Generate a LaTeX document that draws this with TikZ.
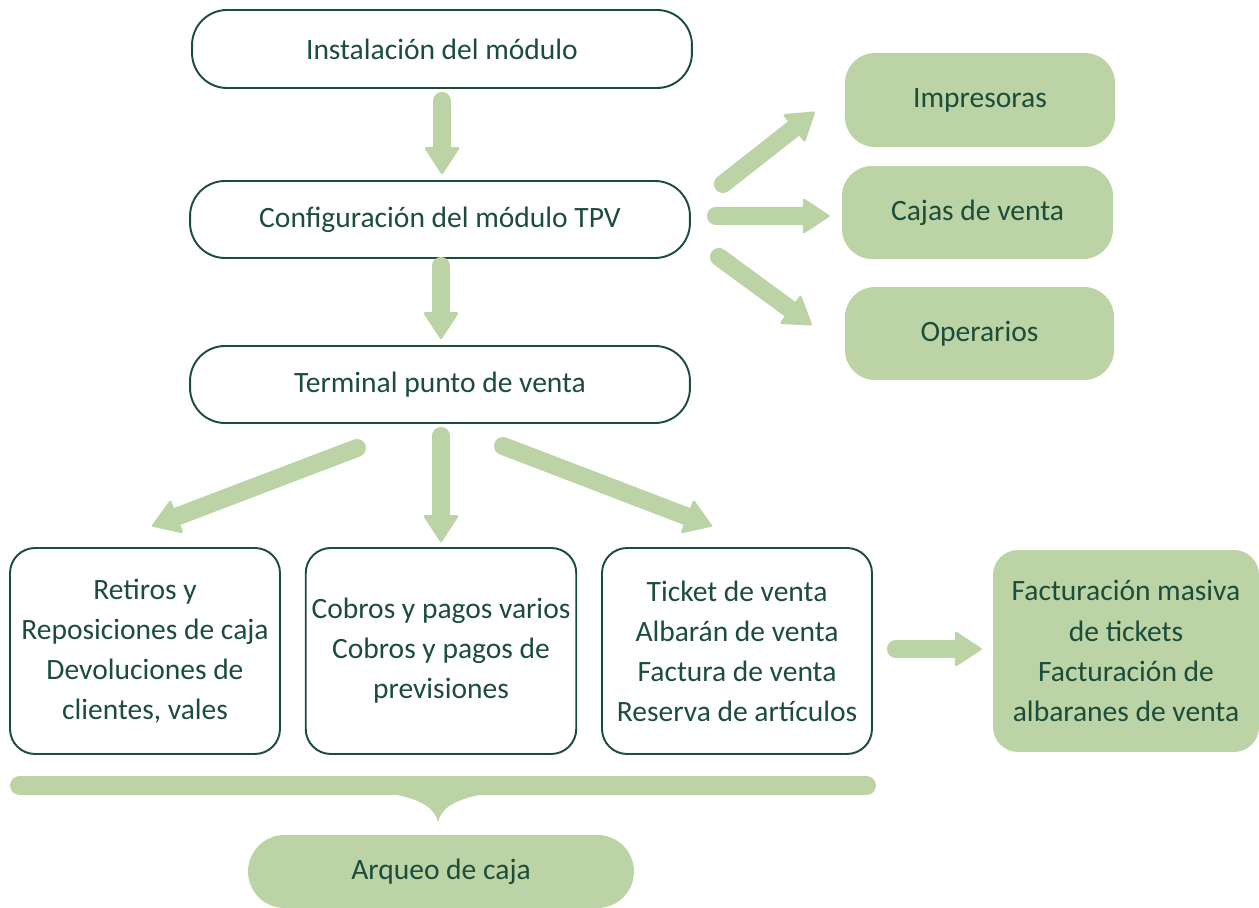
\documentclass[tikz,border=0pt]{standalone}
\usepackage{fontspec}
\setmainfont{Carlito}
\usetikzlibrary{arrows.meta}
\definecolor{leaf}{HTML}{BBD3A5}
\definecolor{pine}{HTML}{1B4D3A}
\tikzset{
  boxtext/.style={text=pine, align=center, font=\fontsize{16.8}{22.8}\selectfont},
  outline/.style={boxtext, draw=pine, line width=1.1pt, fill=white, rounded corners=0.7cm},
  filled/.style={boxtext, fill=leaf, rounded corners=0.6cm},
  fat/.style={draw=leaf, line width=0.36cm, line cap=round,
    -{Triangle[width=0.72cm, length=0.56cm, line width=1.5pt, round]}},
}
\begin{document}
\begin{tikzpicture}[x=0.02cm, y=-0.02cm]
  \useasboundingbox (0,0) rectangle (1259,908);

  % Main column
  \node[outline, minimum width=10cm, minimum height=1.56cm] (inst) at (442,49) {Instalación del módulo};
  \node[outline, minimum width=10cm, minimum height=1.54cm] (conf) at (440,219.5) {Configuración del módulo TPV};
  \node[outline, minimum width=10cm, minimum height=1.54cm] (tpv) at (440,384.5) {Terminal punto de venta};

  % Configuration items
  \node[filled, minimum width=5.4cm, minimum height=1.88cm] (impr) at (980,100) {Impresoras};
  \node[filled, minimum width=5.42cm, minimum height=1.86cm] (cajas) at (977.5,212.5) {Cajas de venta};
  \node[filled, minimum width=5.38cm, minimum height=1.86cm] (oper) at (979.5,333.5) {Operarios};

  % Operations
  \node[outline, rounded corners=0.5cm, minimum width=5.4cm, minimum height=4.12cm] (retiros) at (145,651)
    {Retiros y\\Reposiciones de caja\\Devoluciones de\\clientes, vales};
  \node[outline, rounded corners=0.5cm, minimum width=5.4cm, minimum height=4.12cm] (cobros) at (441,651)
    {Cobros y pagos varios\\Cobros y pagos de\\previsiones};
  \node[outline, rounded corners=0.5cm, minimum width=5.4cm, minimum height=4.12cm] (ventas) at (737,651)
    {Ticket de venta\\Albarán de venta\\Factura de venta\\Reserva de artículos};
  \node[filled, rounded corners=0.5cm, minimum width=5.32cm, minimum height=4.04cm] (factura) at (1126,651)
    {Facturación masiva\\de tickets\\Facturación de\\albaranes de venta};

  \node[filled, rounded corners=0.73cm, minimum width=7.72cm, minimum height=1.46cm] (arqueo) at (441,871.5) {Arqueo de caja};

  % Arrows
  \draw[fat] ([shift={(0,12)}]inst.south) -- ([shift={(2,-6)}]conf.north);
  \draw[fat] ([shift={(1,7)}]conf.south) -- ([shift={(1,-6)}]tpv.north);
  \draw[fat] ([shift={(32,4)}]conf.north east) -- ([shift={(-30,12)}]impr.west);
  \draw[fat] ([shift={(25,-3.5)}]conf.east) -- ([shift={(-12,3.5)}]cajas.west);
  \draw[fat] ([shift={(28,-2)}]conf.south east) -- ([shift={(-33,-8.5)}]oper.west);
  \draw[fat] ([shift={(-83,24)}]tpv.south) -- ([shift={(7,-21)}]retiros.north);
  \draw[fat] ([shift={(1,12)}]tpv.south) -- ([shift={(0,-5)}]cobros.north);
  \draw[fat] ([shift={(63,22)}]tpv.south) -- ([shift={(-25,-21)}]ventas.north);
  \draw[fat] ([shift={(23,-2)}]ventas.east) -- ([shift={(-11,-2)}]factura.west);

  % Brace over the three operation boxes
  \draw[leaf, line width=0.38cm, line cap=round] (19.5,785.5) -- (866.5,785.5);
  \fill[leaf] (392,794) .. controls (425,800) and (435,810) .. (438,822)
    .. controls (441,810) and (451,800) .. (484,794) -- cycle;
\end{tikzpicture}
\end{document}
